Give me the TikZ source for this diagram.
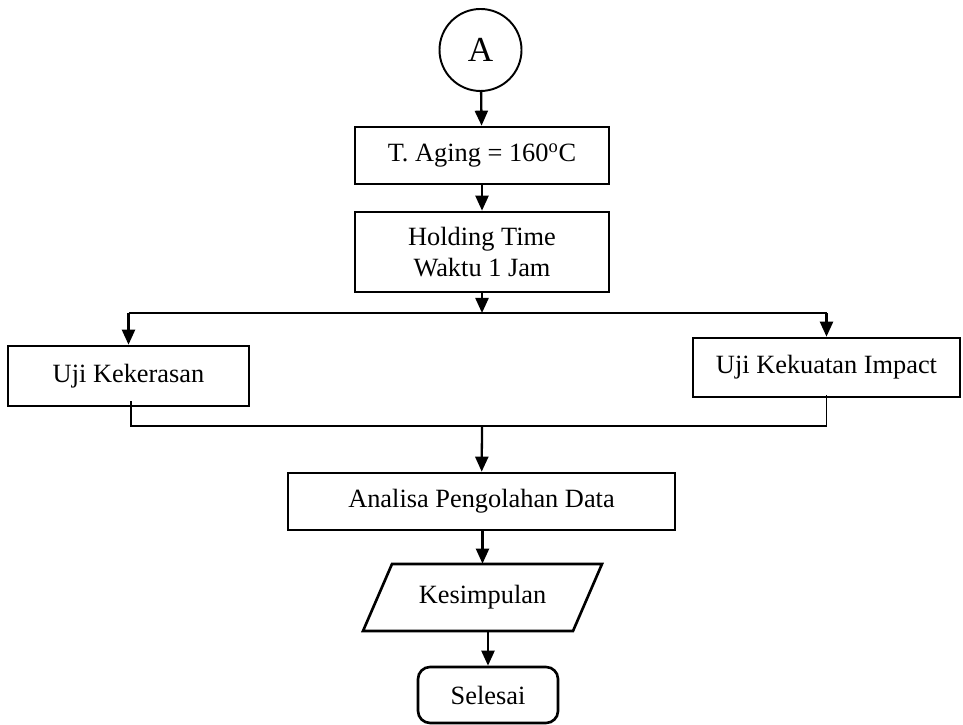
\documentclass[tikz,border=0pt]{standalone}
\usepackage{fontspec}
\setmainfont{Liberation Serif}
\usepackage{tikz}
\usetikzlibrary{arrows.meta}
\usetikzlibrary{calc}
\usetikzlibrary{shapes}

\begin{document}
\begin{tikzpicture}[font=\fontsize{15}{17.6}\selectfont,
        connector_style/.style={circle,draw=black,line width=1.1pt,minimum size=1.64cm,inner sep=0pt,font=\fontsize{20}{24}\selectfont},
        box_style/.style={rectangle,draw=black,line width=1.5pt,align=center,inner sep=0pt},
        io_style/.style={rectangle,minimum width=4.2cm,minimum height=1.34cm,inner sep=0pt},
        io_line_style/.style={draw=black,line width=1.5pt,line join=miter},
        end_style/.style={rectangle,rounded corners=0.24cm,draw=black,line width=1.5pt,
                minimum width=2.8cm,minimum height=1.12cm},
        edge_style/.style={draw=black,line width=1.3pt,-{Triangle[length=0.3cm,width=0.26cm]}},
        line_style/.style={draw=black,line width=0.85pt}]

        \useasboundingbox (0,0) rectangle (19.26,14.5);

        \node [connector_style](a) at (9.61,13.5) {A};

        \node [box_style,minimum width=5.08cm,minimum height=1.14cm](aging) at (9.64,11.39) {T. Aging = 160\textsuperscript{o}C};

        \node [box_style,minimum width=5.08cm,minimum height=1.6cm](holding) at (9.64,9.46) {Holding Time\\Waktu 1 Jam};

        \coordinate (split) at (9.64,8.24);

        \node [box_style,minimum width=4.82cm,minimum height=1.2cm](keras) at (2.57,6.98) {Uji Kekerasan};

        \node [box_style,minimum width=5.34cm,minimum height=1.18cm](impact) at (16.53,7.15) {Uji Kekuatan Impact};

        \coordinate (merge) at (9.64,5.98);

        \node [box_style,minimum width=7.74cm,minimum height=1.14cm](analisa) at (9.63,4.47) {Analisa Pengolahan Data};

        \node [io_style](simpulan) at (9.65,2.55) {Kesimpulan};

        \draw [io_line_style] ($(simpulan)+(-2.39,-0.67)$) -- ($(simpulan)+(1.81,-0.67)$)
                -- ($(simpulan)+(2.39,0.67)$) -- ($(simpulan)+(-1.81,0.67)$) -- cycle;

        \node [end_style](selesai) at (9.76,0.6) {Selesai};

        \draw [edge_style] (a) -- (aging);

        \draw [edge_style] (aging) -- (holding);

        \draw [edge_style] (holding) -- (split);

        \draw [line_style] (keras |- split) -- (impact |- split);

        \draw [edge_style] (keras |- split) -- (keras);

        \draw [edge_style] (impact |- split) -- (impact);

        \draw [line_style] ($(keras.south)+(0.05,0.12)$) |- (merge) -| ($(impact.south)+(0,0.06)$);

        \draw [edge_style] (merge) -- (analisa);

        \draw [edge_style] (analisa.south -| simpulan) -- (simpulan.north);

        \draw [edge_style] (simpulan.south -| selesai) -- (selesai);

        \end{tikzpicture}
\end{document}
